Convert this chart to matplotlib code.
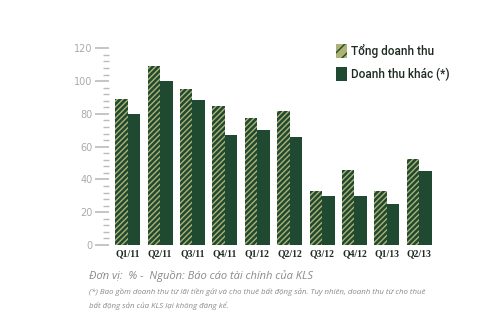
import matplotlib
matplotlib.use("Agg")
import matplotlib.pyplot as plt
from matplotlib.patches import Patch
from matplotlib.ticker import MultipleLocator
import numpy as np

categories = ["Q1/11", "Q2/11", "Q3/11", "Q4/11", "Q1/12", "Q2/12", "Q3/12", "Q4/12", "Q1/13", "Q2/13"]
tong_doanh_thu = [89, 109, 95, 85, 77.5, 82, 33, 45.5, 33, 52.5]
doanh_thu_khac = [80, 100, 88.5, 67, 70, 66, 30, 30, 25, 45]
yticks = [0, 20, 40, 60, 80, 100, 120]

dark = "#1f4a31"
olive = "#aeb274"
gray = "#8a8a8a"

fig = plt.figure(figsize=(5, 3.3), dpi=100)
ax = fig.add_axes([0.218, 0.2576, 0.653, 0.596])

x = np.arange(len(categories))
w = 0.386
plt.rcParams['hatch.linewidth'] = 1.0
ax.bar(x - w/2, tong_doanh_thu, w, color=dark, edgecolor=olive, hatch="//////", linewidth=0)
ax.bar(x + w/2, doanh_thu_khac, w, color=dark, linewidth=0)

ax.set_xlim(-0.577, 9.5)
ax.set_ylim(0, 120)
for s in ["top", "right", "bottom", "left"]:
    ax.spines[s].set_visible(False)
ax.set_yticks(yticks)
ax.yaxis.set_minor_locator(MultipleLocator(4))
ax.tick_params(axis="y", which="major", length=10, width=1.2, color="#bbbbbb",
               labelsize=7, labelcolor="#aaaaaa", pad=2)
ax.tick_params(axis="y", which="minor", length=4, width=1.0, color="#bbbbbb")
ax.set_xticks(x)
ax.set_xticklabels(categories, fontfamily="Liberation Serif", fontweight="bold",
                   fontsize=7, color="#1e2a22")
ax.tick_params(axis="x", length=0, pad=3)

handles = [Patch(facecolor=olive, edgecolor=dark, hatch="///", linewidth=0),
           Patch(facecolor=dark, linewidth=0)]
leg = fig.legend(handles, ["Tổng doanh thu", "Doanh thu khác (*)"],
                 loc="upper left", bbox_to_anchor=(0.65, 0.90), frameon=False,
                 prop={"family": "Roboto", "size": 8.5, "weight": "medium"},
                 handlelength=1.0, handleheight=1.4, handletextpad=0.3,
                 labelspacing=0.8, labelcolor="#1e2a22")

fig.text(0.178, 0.163, "Đơn vị:  % -  Nguồn: Báo cáo tài chính của KLS",
         fontfamily="Open Sans", style="italic", fontsize=8, color=gray, va="center")
fig.text(0.178, 0.115, "(*) Bao gồm doanh thu từ lãi tiền gửi và cho thuê bất động sản. Tuy nhiên, doanh thu từ cho thuê",
         fontfamily="Open Sans", style="italic", fontsize=5.7, color=gray, va="center")
fig.text(0.178, 0.075, "bất động sản của KLS lại không đáng kể.",
         fontfamily="Open Sans", style="italic", fontsize=5.7, color=gray, va="center")

fig.savefig("out.png", dpi=100)
